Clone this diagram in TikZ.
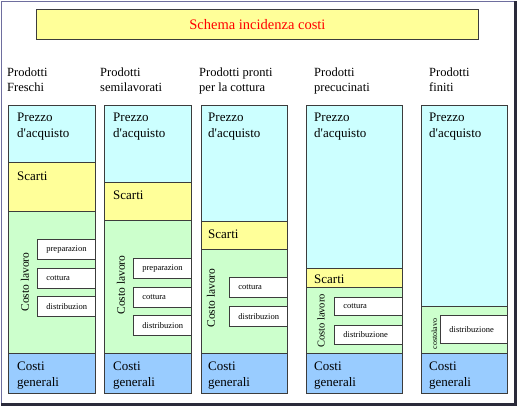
\documentclass[tikz,border=0pt]{standalone}
\usepackage{fontspec}
\setmainfont{Liberation Serif}
\usetikzlibrary{positioning}

\definecolor{cornicecol}{HTML}{6E6E9E}
\definecolor{ombra}{HTML}{2A2A3A}
\definecolor{bordo}{HTML}{3C3C3C}
\definecolor{azzurro}{HTML}{CCFFFF}
\definecolor{giallo}{HTML}{FFFF99}
\definecolor{verde}{HTML}{CCFFCC}
\definecolor{blu}{HTML}{99CCFF}

\newcommand{\acq}{d\textquotesingle acquisto}

\tikzset{
    banda/.style={draw=bordo, line width=0.8pt},
    prezzo/.style={banda, fill=azzurro},
    scarti/.style={banda, fill=giallo},
    lavoro/.style={banda, fill=verde},
    generali/.style={banda, fill=blu},
    testo/.style={anchor=base west, inner sep=0pt, align=left, font=\fontsize{13}{15.5}\selectfont},
    intest/.style={anchor=base west, inner sep=0pt, align=left, font=\fontsize{12.5}{15}\selectfont},
    ruotato/.style={rotate=90, inner sep=0pt, font=\fontsize{11.5}{13}\selectfont},
    voce/.style={draw=bordo, fill=white, line width=0.8pt, anchor=north west, inner xsep=9pt, inner ysep=0pt,
        align=left, font=\fontsize{8.5}{10}\selectfont},
}

\begin{document}
\begin{tikzpicture}[x=1pt, y=-1pt]
    \useasboundingbox (0,0) rectangle (520,407);
    \draw[cornicecol, line width=0.8pt] (1,404) -- (1,1) -- (515,1);
    \draw[ombra, line width=3pt] (515.5,1) -- (515.5,404.5) -- (1,404.5);

    \node[draw=bordo, line width=0.8pt, fill=giallo, minimum width=442pt, minimum height=30pt, anchor=north west,
        text=red, font=\fontsize{14.5}{16}\selectfont] (titolo) at (36,9) {Schema incidenza costi};

    \node[intest] (h1) at (7,91) {Prodotti\\Freschi};
    \node[intest] (h2) at (100,91) {Prodotti\\semilavorati};
    \node[intest] (h3) at (199,91) {Prodotti pronti\\per la cottura};
    \node[intest] (h4) at (314,91) {Prodotti\\precucinati};
    \node[intest] (h5) at (429,91) {Prodotti\\finiti};

    % Prodotti freschi
    \draw[prezzo] (8,105) rectangle (95,162);
    \draw[scarti] (8,162) rectangle (95,211);
    \draw[lavoro] (8,211) rectangle (95,353);
    \draw[generali] (8,353) rectangle (95,393);
    \node[testo] (p1) at (17,137) {Prezzo\\\acq};
    \node[testo] (s1) at (17,180) {Scarti};
    \node[ruotato] (c1) at (25,282) {Costo lavoro};
    \node[voce, text width=40pt, minimum height=20pt] (a1) at (37,239) {preparazion};
    \node[voce, text width=40pt, minimum height=20pt] (b1) at (37,268) {cottura};
    \node[voce, text width=40pt, minimum height=20pt] (d1) at (37,296) {distribuzion};
    \node[testo] (g1) at (17,386) {Costi\\generali};

    % Prodotti semilavorati
    \draw[prezzo] (104,105) rectangle (191,182);
    \draw[scarti] (104,182) rectangle (191,220);
    \draw[lavoro] (104,220) rectangle (191,353);
    \draw[generali] (104,353) rectangle (191,393);
    \node[testo] (p2) at (113,137) {Prezzo\\\acq};
    \node[testo] (s2) at (113,199) {Scarti};
    \node[ruotato] (c2) at (121,285) {Costo lavoro};
    \node[voce, text width=40pt, minimum height=20pt] (a2) at (133,258) {preparazion};
    \node[voce, text width=40pt, minimum height=20pt] (b2) at (133,287) {cottura};
    \node[voce, text width=40pt, minimum height=20pt] (d2) at (133,315) {distribuzion};
    \node[testo] (g2) at (113,386) {Costi\\generali};

    % Prodotti pronti per la cottura
    \draw[prezzo] (201,105) rectangle (287,221);
    \draw[scarti] (201,221) rectangle (287,249);
    \draw[lavoro] (201,249) rectangle (287,353);
    \draw[generali] (201,353) rectangle (287,393);
    \node[testo] (p3) at (208,137) {Prezzo\\\acq};
    \node[testo] (s3) at (208,238) {Scarti};
    \node[ruotato] (c3) at (211,298) {Costo lavoro};
    \node[voce, text width=40pt, minimum height=20pt] (b3) at (229,277) {cottura};
    \node[voce, text width=40pt, minimum height=20pt] (d3) at (229,306) {distribuzion};
    \node[testo] (g3) at (208,386) {Costi\\generali};

    % Prodotti precucinati
    \draw[prezzo] (306,105) rectangle (402,268);
    \draw[scarti] (306,268) rectangle (402,287);
    \draw[lavoro] (306,287) rectangle (402,353);
    \draw[generali] (306,353) rectangle (402,393);
    \node[testo] (p4) at (314,137) {Prezzo\\\acq};
    \node[testo] (s4) at (314,283) {Scarti};
    \node[ruotato, font=\fontsize{10.5}{12}\selectfont] (c4) at (321,321) {Costo lavoro};
    \node[voce, text width=50pt, minimum height=18pt] (b4) at (334,297) {cottura};
    \node[voce, text width=50pt, minimum height=19pt] (d4) at (334,325) {distribuzione};
    \node[testo] (g4) at (314,386) {Costi\\generali};

    % Prodotti finiti
    \draw[prezzo] (421,105) rectangle (507,306);
    \draw[lavoro] (421,306) rectangle (507,353);
    \draw[generali] (421,353) rectangle (507,393);
    \node[testo] (p5) at (429,137) {Prezzo\\\acq};
    \node[ruotato, font=\fontsize{8}{9}\selectfont] (c5) at (434.5,334) {costolavo};
    \node[voce, text width=49pt, minimum height=28pt] (d5) at (440,315) {distribuzione};
    \node[testo] (g5) at (429,386) {Costi\\generali};
\end{tikzpicture}
\end{document}
